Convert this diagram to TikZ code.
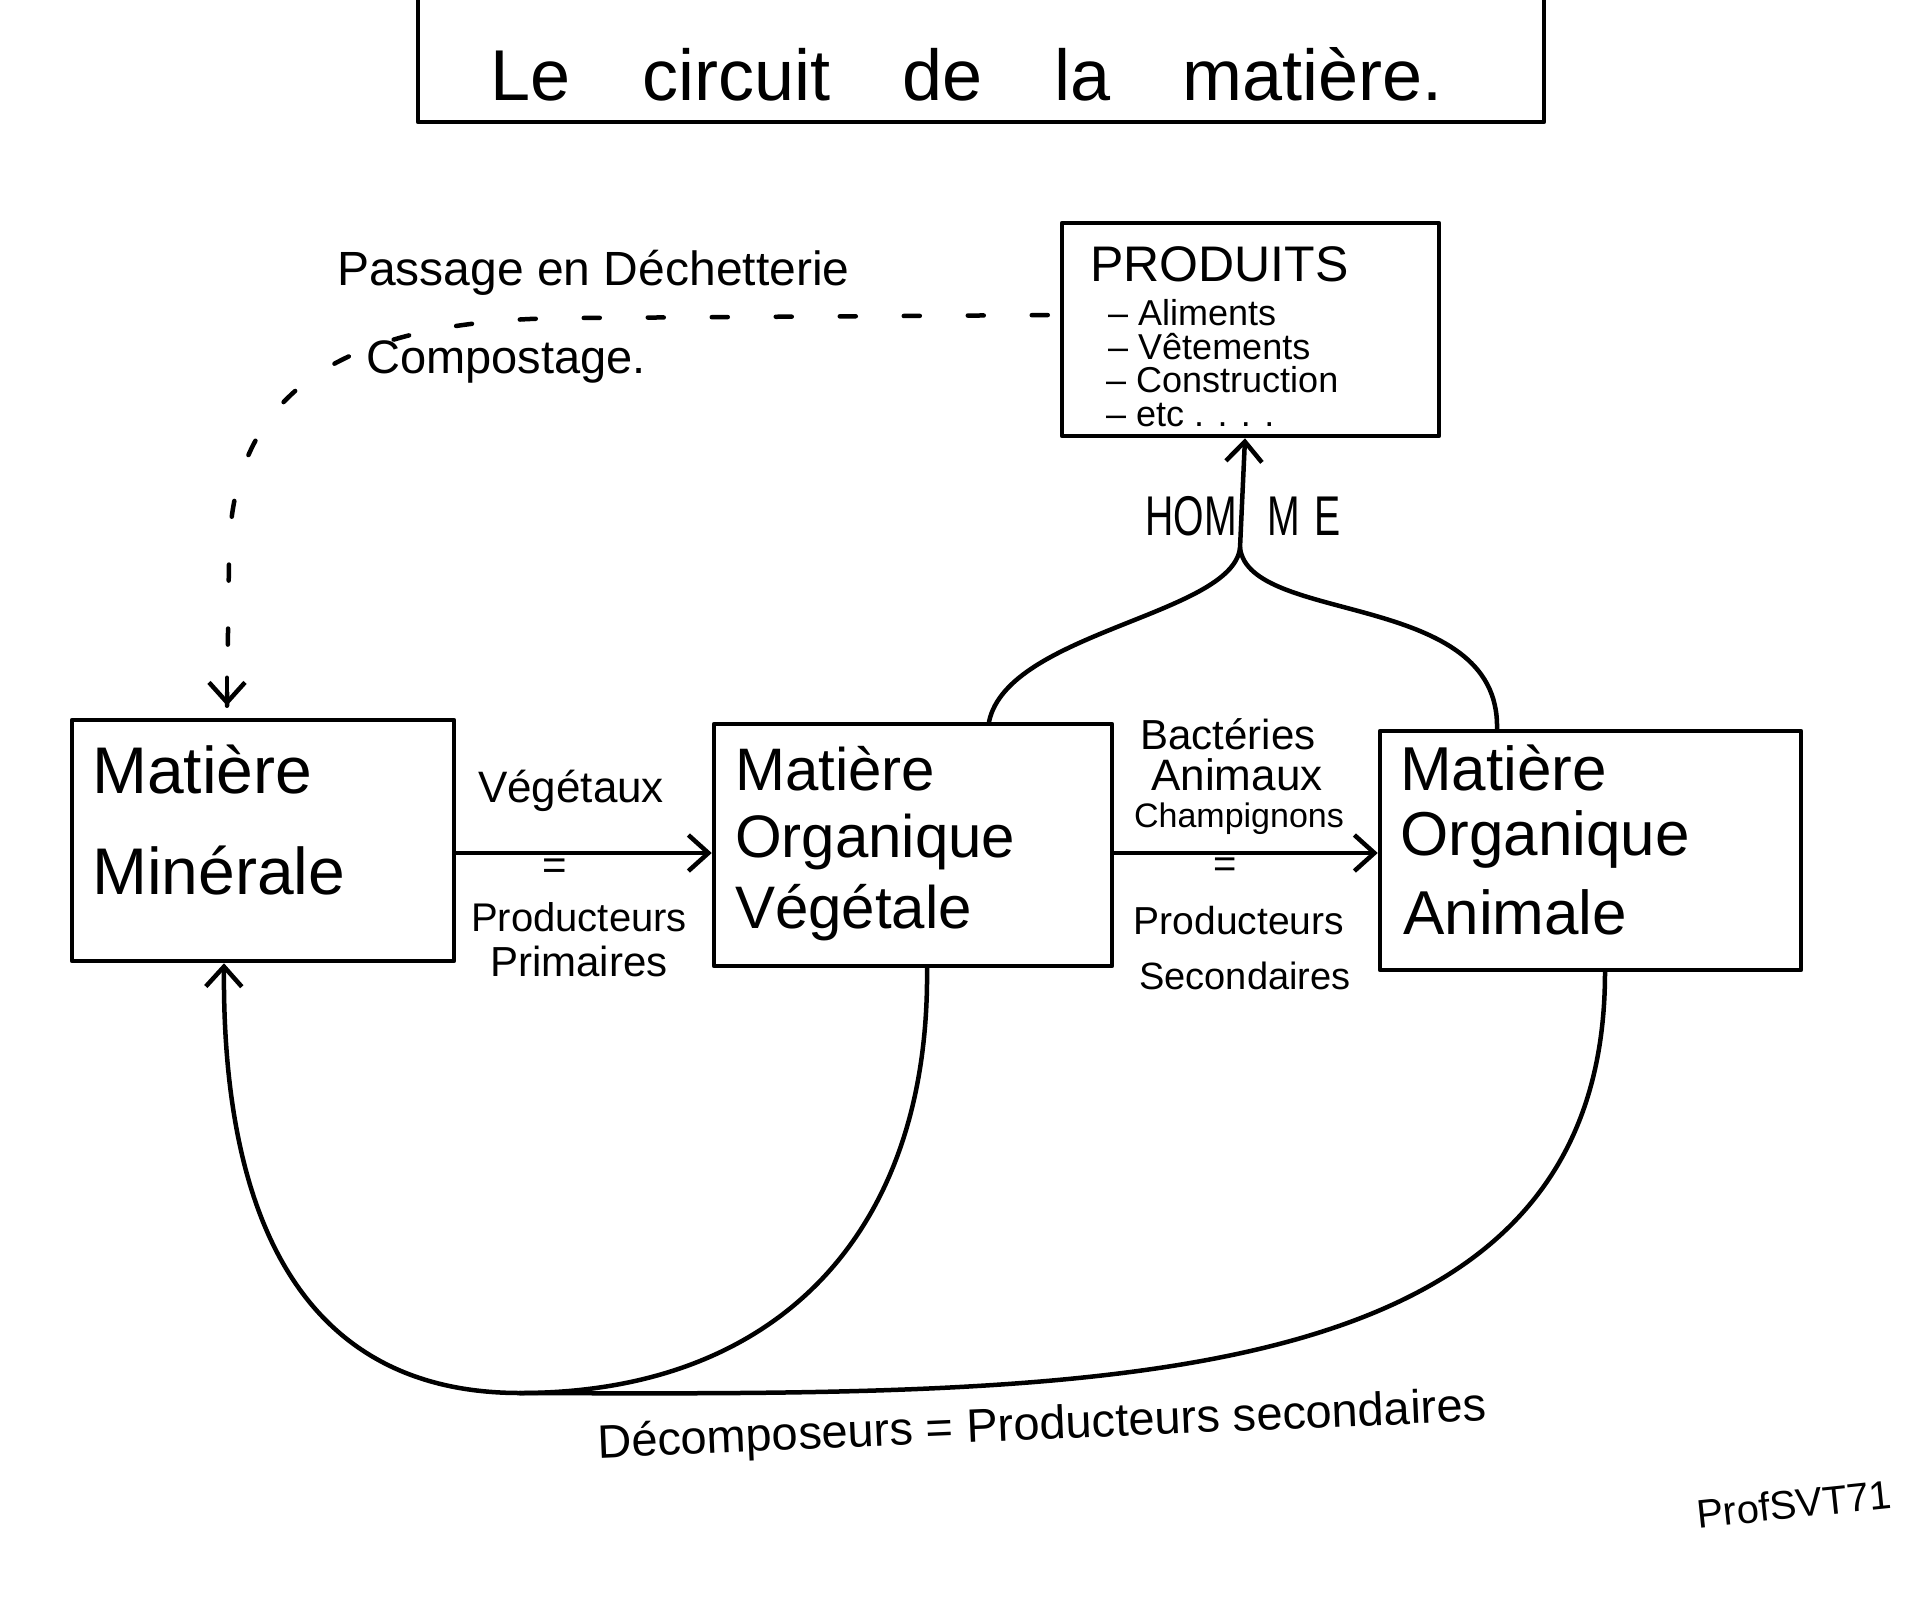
\documentclass[tikz,border=0pt]{standalone}
\usepackage{fontspec}
\usepackage{graphicx}
\setmainfont{Liberation Sans}
\usetikzlibrary{arrows.meta}
\newcommand\myfs[1]{\fontsize{#1}{#1}\selectfont}
\begin{document}
\begin{tikzpicture}[x=1pt,y=-1pt,
  ln/.style={line width=4.5pt, line cap=round, line join=round},
  box/.style={draw, line width=4.5pt, line join=round, inner sep=0pt},
  arr/.style={ln, -{Straight Barb[length=20pt,width=36pt]}},
  dsh/.style={line width=4.5pt, line cap=round, dash pattern=on 16pt off 48pt},
  tl/.style={inner sep=0pt, anchor=base west},
  tc/.style={inner sep=0pt, anchor=base}]
\useasboundingbox (0,0) rectangle (1920,1609);
\fill[white] (0,0) rectangle (1920,1609);

% title
\draw[ln] (418,-10) -- (418,122) -- (1544,122) -- (1544,-10);
\node[tl, font=\myfs{72}] (title) at (490,100) {Le\quad circuit\quad de\quad la\quad matière.};

% boxes
\node[box, minimum width=382pt, minimum height=241pt] (mm) at (263,840.5) {};
\node[box, minimum width=398pt, minimum height=242pt] (mov) at (913,845) {};
\node[box, minimum width=421pt, minimum height=239pt] (moa) at (1590.5,850.5) {};
\node[box, minimum width=377pt, minimum height=213pt] (prod) at (1250.5,329.5) {};

% box texts
\node[tl, font=\myfs{66}] (mm1) at (92,793) {Matière};
\node[tl, font=\myfs{66}] (mm2) at (92,894) {Minérale};
\node[tl, font=\myfs{60}] (mov1) at (735,790) {Matière};
\node[tl, font=\myfs{60}] (mov2) at (735,857) {Organique};
\node[tl, font=\myfs{60}] (mov3) at (735,928) {Végétale};
\node[tl, font=\myfs{62}] (moa1) at (1400,790) {Matière};
\node[tl, font=\myfs{62}] (moa2) at (1400,855) {Organique};
\node[tl, font=\myfs{62}] (moa3) at (1403,934) {Animale};
\node[tl, font=\myfs{50}] (p0) at (1090,281) {PRODUITS};
\node[tl, font=\myfs{36}] (p1) at (1108,325) {– Aliments};
\node[tl, font=\myfs{36}] (p2) at (1108,359) {– Vêtements};
\node[tl, font=\myfs{36}] (p3) at (1106,392) {– Construction};
\node[tl, font=\myfs{36}] (p4) at (1106,426) {– etc . . . .};

% horizontal arrows
\coordinate (ay) at (0,853);
\draw[arr] (mm.east |- ay) -- (mov.west |- ay);
\draw[arr] (mov.east |- ay) -- (moa.west |- ay);
\node[tc, font=\myfs{44}] (veg) at (571,802) {Végétaux};
\node[tc, font=\myfs{42}] (eq1) at (555,879) {=};
\node[tc, font=\myfs{40}] (pp1) at (579,931) {Producteurs};
\node[tc, font=\myfs{42}] (pp2) at (579,976) {Primaires};
\node[tc, font=\myfs{42}] (bac) at (1228,749) {Bactéries};
\node[tc, font=\myfs{44}] (ani) at (1237,790) {Animaux};
\node[tc, font=\myfs{34}] (cha) at (1239,827) {Champignons};
\node[tc, font=\myfs{40}] (eq2) at (1225,877) {=};
\node[tc, font=\myfs{39}] (ps1) at (1239,934) {Producteurs};
\node[tc, font=\myfs{38}] (ps2) at (1245,989) {Secondaires};

% HOMME
\coordinate (jh) at (1240,548);
\draw[ln] ([xshift=76pt]mov.north) .. controls (1008,632) and (1232,615) .. (jh);
\draw[ln] ([xshift=-93.5pt]moa.north) .. controls (1500,590) and (1250,625) .. (jh);
\draw[arr] (jh) -- ([xshift=-5.5pt]prod.south);
\node[tc, font=\myfs{56}] (homme) at (1243,535) {\scalebox{0.7}[1]{HOM\hspace{43pt}M\hspace{21pt}E}};

% dashed return path
\coordinate (dc) at (575,318);
\draw[dsh, shorten <=12pt] ([yshift=14.5pt]prod.west) -- (dc) .. controls (330,318) and (229,400) .. (229,560)
  -- ([xshift=-36pt,yshift=12pt]mm.north);
\draw[arr] ([xshift=-36pt,yshift=40pt]mm.north) -- ([xshift=-36pt,yshift=12pt]mm.north);
\node[tl, font=\myfs{48}] (pass) at (337,285) {Passage en Déchetterie};
\node[tl, font=\myfs{47}] (comp) at (366,373) {Compostage.};

% decomposers
\coordinate (jb) at (520,1393);
\draw[ln] ([xshift=14pt]mov.south) .. controls (930,1230) and (780,1393) .. (jb);
\draw[ln] ([xshift=14.5pt]moa.south) .. controls (1605,1400) and (1100,1395) .. (jb);
\draw[arr] (jb) .. controls (310,1393) and (222,1230) .. ([xshift=-39pt]mm.south);
\node[font=\myfs{47}, rotate=2.4, inner sep=0pt] (dec) at (1042,1427) {Décomposeurs = Producteurs secondaires};

% signature
\node[font=\myfs{40}, rotate=6, inner sep=0pt] (sig) at (1794,1504) {ProfSVT71};
\end{tikzpicture}
\end{document}
